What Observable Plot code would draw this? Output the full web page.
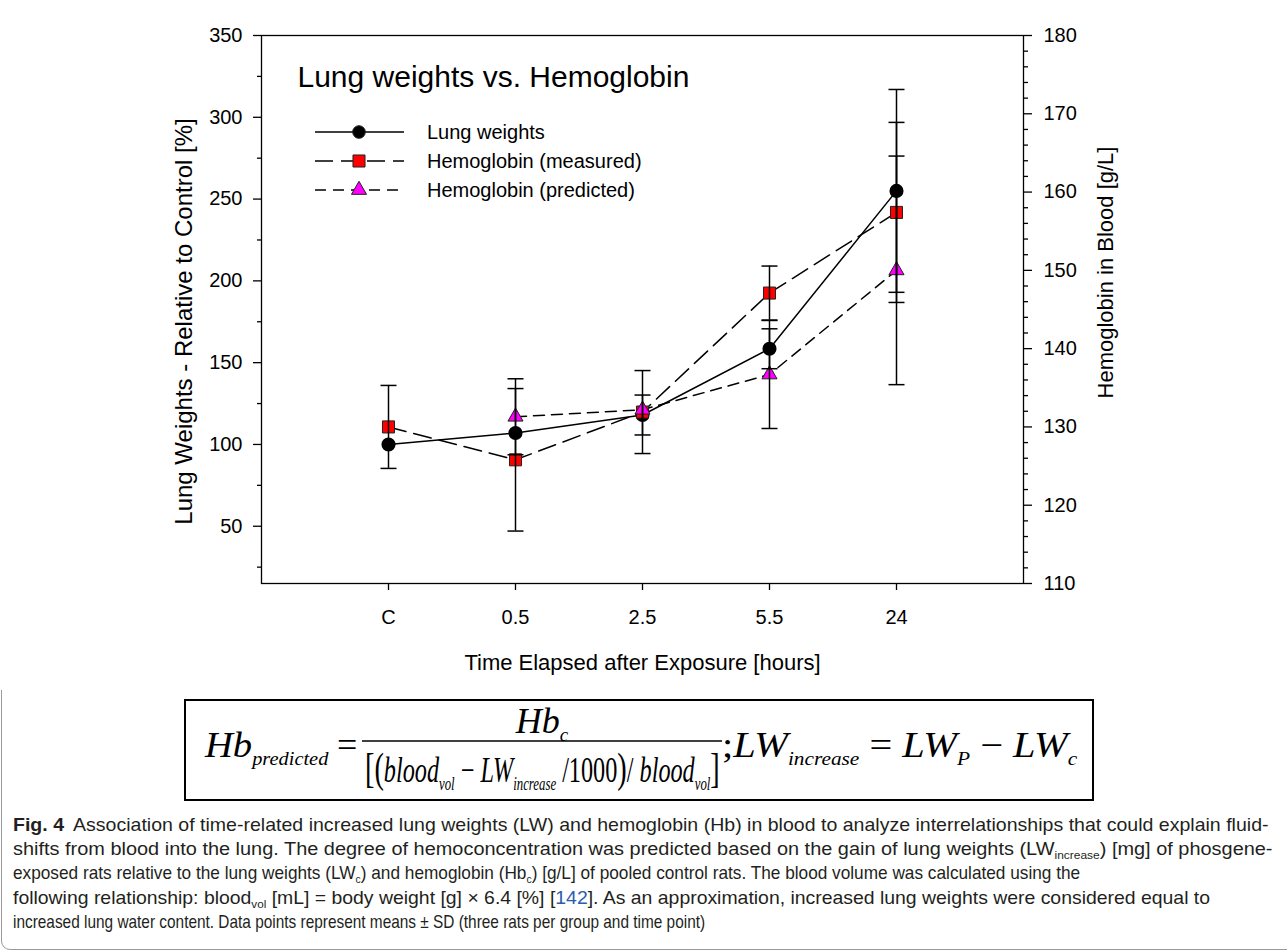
<!DOCTYPE html>
<html><head><meta charset="utf-8">
<script src="https://cdn.jsdelivr.net/npm/d3@7"></script>
<script src="https://cdn.jsdelivr.net/npm/@observablehq/plot@0.6"></script>
<style>
html,body{margin:0;padding:0;background:#fff;}
body{width:1287px;height:952px;overflow:hidden;position:relative;font-family:"Liberation Sans",Arial,sans-serif;}
#chart{position:absolute;left:0;top:0;}
#legend{position:absolute;left:0;top:0;pointer-events:none;}
#outer{position:absolute;left:1px;top:-20px;width:1300px;height:968px;border:1px solid #9a9a9a;border-radius:9px;}
#formula{position:absolute;left:184px;top:699px;}
#cap{position:absolute;left:0;top:800px;}
</style></head><body>
<div id="outer"></div>
<div id="chart"></div>
<svg id="legend" width="1287" height="690"></svg>
<svg id="formula" width="910" height="102">
<rect x="1" y="1" width="908" height="100" fill="white" stroke="black" stroke-width="2"/>
<g font-family="'Liberation Serif','Times New Roman',serif" font-style="italic" font-size="36" fill="#000">
<text class="fit" data-x="21" data-y="58" data-w="125">Hb<tspan font-size="19" dy="8">predicted</tspan></text>
<text x="153" y="58" font-style="normal">=</text>
<text x="358" y="34" text-anchor="middle">Hb<tspan font-size="19" dy="8">c</tspan></text>
<line x1="178" x2="538" y1="42" y2="42" stroke="#000" stroke-width="1.6"/>
<text class="fit" data-x="181" data-y="83" data-w="355"><tspan font-style="normal" font-size="42">[(</tspan>blood<tspan font-size="19" dy="8">vol</tspan><tspan dy="-8" font-style="normal"> − </tspan>LW<tspan font-size="19" dy="8">increase</tspan><tspan dy="-8" font-style="normal"> /1000</tspan><tspan font-style="normal" font-size="42">)</tspan><tspan font-style="normal">/ </tspan>blood<tspan font-size="19" dy="8">vol</tspan><tspan dy="-8" font-style="normal" font-size="42">]</tspan></text>
<text class="fit" data-x="538" data-y="58" data-w="356"><tspan font-style="normal">;</tspan>LW<tspan font-size="19" dy="8">increase</tspan><tspan dy="-8" font-style="normal"> = </tspan>LW<tspan font-size="19" dy="8">P</tspan><tspan dy="-8" font-style="normal"> − </tspan>LW<tspan font-size="19" dy="8">c</tspan></text>
</g>
</svg>
<svg id="cap" width="1287" height="152" font-family="'Liberation Sans',Arial,sans-serif" font-size="17.5" fill="#231f20">
<text class="fit" data-x="13" data-y="31" data-w="1256"><tspan font-weight="bold">Fig. 4</tspan><tspan dx="8">Association of time-related increased lung weights (LW) and hemoglobin (Hb) in blood to analyze interrelationships that could explain fluid-</tspan></text>
<text class="fit" data-x="13" data-y="55" data-w="1260">shifts from blood into the lung. The degree of hemoconcentration was predicted based on the gain of lung weights (LW<tspan font-size="10.5" dy="4">increase</tspan><tspan dy="-4">) [mg] of phosgene-</tspan></text>
<text class="fit" data-x="13" data-y="79" data-w="1068">exposed rats relative to the lung weights (LW<tspan font-size="10.5" dy="4">c</tspan><tspan dy="-4">) and hemoglobin (Hb</tspan><tspan font-size="10.5" dy="4">c</tspan><tspan dy="-4">) [g/L] of pooled control rats. The blood volume was calculated using the</tspan></text>
<text class="fit" data-x="13" data-y="104" data-w="1198">following relationship: blood<tspan font-size="10.5" dy="4">vol</tspan><tspan dy="-4"> [mL] = body weight [g] × 6.4 [%] [</tspan><tspan fill="#2a5db0">142</tspan>]. As an approximation, increased lung weights were considered equal to</text>
<text class="fit" data-x="13" data-y="128" data-w="693">increased lung water content. Data points represent means ± SD (three rats per group and time point)</text>
</svg>
<script>
// ---- data ----
const categories = ["C", "0.5", "2.5", "5.5", "24"];
const lungWeights   = [100, 107, 118, 158.5, 255];      // % of control (left axis)
const lungWeightsSD = [null, null, 12.2, 12.2, 62];
const hbMeasured    = [130, 125.8, 131.9, 147.1, 157.4]; // g/L (right axis)
const hbMeasuredSD  = [5.3, 9.1, 5.3, 3.45, 11.5];
const hbPredicted   = [null, 131.3, 132.2, 136.7, 150];  // g/L (right axis)
const hbPredictedSD = [null, 4.85, null, 6.9, 14.6];
const leftTicks = [50, 100, 150, 200, 250, 300, 350];
const leftMinorTicks = [25, 75, 125, 175, 225, 275, 325];
const rightTicks = [110, 120, 130, 140, 150, 160, 170, 180];
const rightMinorTicks = d3.range(112, 180, 2).filter(v => v % 10 !== 0);
const leftDomain = [15, 350];
const rightDomain = [110, 180];
const seriesNames = ["Lung weights", "Hemoglobin (measured)", "Hemoglobin (predicted)"];

// map right-axis values into left-axis units (single y scale)
const k = (leftDomain[1] - leftDomain[0]) / (rightDomain[1] - rightDomain[0]);
const hbToLeft = v => leftDomain[0] + (v - rightDomain[0]) * k;
const leftToHb = v => rightDomain[0] + (v - leftDomain[0]) / k;

function rows(vals, sds, conv, scaleSd) {
  return categories.map((c, i) => ({cat: c, v: vals[i] == null ? null : conv(vals[i]), sd: sds[i] == null ? null : sds[i] * scaleSd}))
    .filter(d => d.v != null);
}
const lw = rows(lungWeights, lungWeightsSD, v => v, 1);
const hm = rows(hbMeasured, hbMeasuredSD, hbToLeft, k);
const hp = rows(hbPredicted, hbPredictedSD, hbToLeft, k);
const err = [...lw, ...hm, ...hp].filter(d => d.sd != null).map(d => ({cat: d.cat, lo: d.v - d.sd, hi: d.v + d.sd}));
const caps = err.flatMap(d => [{cat: d.cat, y: d.lo}, {cat: d.cat, y: d.hi}]);
const capSymbol = {draw(ctx) { ctx.moveTo(-8, 0); ctx.lineTo(8, 0); }};

const chart = Plot.plot({
  width: 1287, height: 690,
  marginLeft: 261, marginRight: 264, marginTop: 35, marginBottom: 107,
  x: {type: "point", domain: categories, padding: 1, axis: null},
  y: {domain: leftDomain, axis: null},
  style: {fontFamily: "'Liberation Sans', Arial, sans-serif", color: "black", background: "white"},
  marks: [
    Plot.frame({stroke: "black", strokeWidth: 1.3}),
    Plot.axisY(leftTicks, {anchor: "left", tickSize: 8, tickPadding: 11, fontSize: 20, label: null, strokeWidth: 1.3}),
    Plot.axisY(leftMinorTicks, {anchor: "left", tickSize: 4, tickFormat: () => "", label: null, strokeWidth: 1.3}),
    Plot.axisY(rightTicks.map(hbToLeft), {anchor: "right", tickSize: 8, tickPadding: 12, fontSize: 20, label: null, strokeWidth: 1.3,
      tickFormat: d => String(Math.round(leftToHb(d)))}),
    Plot.axisY(rightMinorTicks.map(hbToLeft), {anchor: "right", tickSize: 4, tickFormat: () => "", label: null, strokeWidth: 1.3}),
    Plot.axisX(categories, {anchor: "bottom", tickSize: 7, tickPadding: 19, fontSize: 20, label: null, strokeWidth: 1.3}),
    Plot.line(lw, {x: "cat", y: "v", stroke: "black", strokeWidth: 1.5}),
    Plot.line(hm, {x: "cat", y: "v", stroke: "black", strokeWidth: 1.5, strokeDasharray: "18,8"}),
    Plot.line(hp, {x: "cat", y: "v", stroke: "black", strokeWidth: 1.5, strokeDasharray: "11,7"}),
    Plot.dot(lw, {x: "cat", y: "v", r: 6.3, fill: "black", stroke: "black"}),
    Plot.dot(hm, {x: "cat", y: "v", r: 6.8, symbol: "square", fill: "#ff0000", stroke: "#222", strokeWidth: 1}),
    Plot.dot(hp, {x: "cat", y: "v", r: 5.6, symbol: "triangle", fill: "#ff00ff", stroke: "#222", strokeWidth: 1}),
    Plot.ruleX(err, {x: "cat", y1: "lo", y2: "hi", stroke: "black", strokeWidth: 1.5}),
    Plot.dot(caps, {x: "cat", y: "y", symbol: capSymbol, stroke: "black", fill: "none", strokeWidth: 1.5}),
    Plot.text(["Lung weights vs. Hemoglobin"], {text: d => d, frameAnchor: "top-left", dx: 36, dy: 42, textAnchor: "start", lineAnchor: "middle", fontSize: 30}),
    Plot.text(["Lung Weights - Relative to Control [%]"], {text: d => d, frameAnchor: "left", rotate: -90, dx: -77, dy: 12, textAnchor: "middle", lineAnchor: "middle", fontSize: 24}),
    Plot.text(["Hemoglobin in Blood [g/L]"], {text: d => d, frameAnchor: "right", rotate: -90, dx: 82, dy: -37, textAnchor: "middle", lineAnchor: "middle", fontSize: 22}),
    Plot.text(["Time Elapsed after Exposure [hours]"], {text: d => d, frameAnchor: "bottom", dy: 79, textAnchor: "middle", lineAnchor: "middle", fontSize: 22})
  ]
});
document.getElementById("chart").appendChild(chart);

// ---- legend (inside the plot, upper-left) ----
const lg = d3.select("#legend");
const legendItems = [
  {name: seriesNames[0], dash: null, sym: d3.symbolCircle, size: Math.PI * 6.3 * 6.3, fill: "black"},
  {name: seriesNames[1], dash: "18,8", sym: d3.symbolSquare, size: Math.PI * 6.8 * 6.8, fill: "#ff0000"},
  {name: seriesNames[2], dash: "11,7", sym: d3.symbolTriangle, size: Math.PI * 5.6 * 5.6, fill: "#ff00ff"}
];
const legendRowY = [132, 161, 190];
legendItems.forEach((it, i) => {
  const y = legendRowY[i];
  lg.append("line").attr("x1", 315).attr("x2", 404).attr("y1", y).attr("y2", y)
    .attr("stroke", "black").attr("stroke-width", 1.5).attr("stroke-dasharray", it.dash);
  lg.append("path").attr("d", d3.symbol(it.sym, it.size)()).attr("transform", `translate(359,${y})`)
    .attr("fill", it.fill).attr("stroke", "#222").attr("stroke-width", 1);
  lg.append("text").attr("x", 427).attr("y", y).attr("dy", "0.35em").attr("font-size", 20)
    .attr("font-family", "'Liberation Sans', Arial, sans-serif").text(it.name);
});

// ---- formula pieces and caption lines: scale each horizontally to its width in the reference ----
document.querySelectorAll("text.fit").forEach(t => {
  const natural = t.getBBox().width;
  const sx = (+t.dataset.w) / natural;
  t.setAttribute("x", 0);
  t.setAttribute("y", 0);
  t.setAttribute("transform", `translate(${t.dataset.x},${t.dataset.y}) scale(${sx},1)`);
});
</script>
</body></html>
